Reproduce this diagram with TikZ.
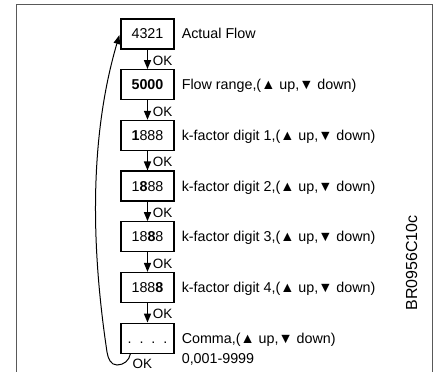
\documentclass[tikz,border=0pt]{standalone}
\usepackage{fontspec}
\setmainfont{Liberation Sans}
\usetikzlibrary{positioning,arrows.meta}

\begin{document}
\begin{tikzpicture}[x=1pt,y=1pt,
  every node/.style={font=\fontsize{14.3}{16}\selectfont, text height=10pt, text depth=0pt},
  box/.style={draw, line width=1.2pt, minimum width=53pt, minimum height=30pt, inner sep=0pt},
  lbl/.style={inner sep=0pt},
  ok/.style={inner sep=0pt, font=\fontsize{13.5}{15}\selectfont},
  flow/.style={line width=1.5pt, -{Triangle[length=9pt,width=7pt]}},
  back/.style={line width=1pt, -{Triangle[length=9pt,width=6.5pt]}},
  frame/.style={black!65, line width=1.5pt}]
\useasboundingbox (0,0) rectangle (440,372);
\draw[frame] (16.5,0) -- (16.5,367.5) -- (432.5,367.5) -- (432.5,0);

% display steps
\node[box] (b1) at (147.5,338) {4321};
\node[box] (b2) at (147.5,287.3) {\bfseries 5000};
\node[box] (b3) at (147.5,236.6) {{\bfseries 1}888};
\node[box] (b4) at (147.5,185.9) {1{\bfseries 8}88};
\node[box] (b5) at (147.5,135.2) {18{\bfseries 8}8};
\node[box] (b6) at (147.5,84.5) {188{\bfseries 8}};
\node[box] (b7) at (147.5,33.8) {.~~.~~.~~.};

% texts
\node[lbl, right=7pt of b1] (t1) {Actual Flow};
\node[lbl, right=7pt of b2] (t2) {Flow range,(▲ up,▼ down)};
\node[lbl, right=7pt of b3] (t3) {k-factor digit 1,(▲ up,▼ down)};
\node[lbl, right=7pt of b4] (t4) {k-factor digit 2,(▲ up,▼ down)};
\node[lbl, right=7pt of b5] (t5) {k-factor digit 3,(▲ up,▼ down)};
\node[lbl, right=7pt of b6] (t6) {k-factor digit 4,(▲ up,▼ down)};
\node[lbl, right=7pt of b7] (t7) {Comma,(▲ up,▼ down)};
\node[lbl, anchor=west] (r7) at ([yshift=-20pt]t7.west) {0,001-9999};
\node[rotate=90, font=\fontsize{16}{18}\selectfont] (tag) at (412,109) {BR0956C10c};

% OK steps
\draw[flow] (b1) -- node[ok, right=4.5pt, yshift=-1pt] (ok1) {OK} (b2);
\draw[flow] (b2) -- node[ok, right=4.5pt, yshift=-1pt] (ok2) {OK} (b3);
\draw[flow] (b3) -- node[ok, right=4.5pt, yshift=-1pt] (ok3) {OK} (b4);
\draw[flow] (b4) -- node[ok, right=4.5pt, yshift=-1pt] (ok4) {OK} (b5);
\draw[flow] (b5) -- node[ok, right=4.5pt, yshift=-1pt] (ok5) {OK} (b6);
\draw[flow] (b6) -- node[ok, right=4.5pt, yshift=-1pt] (ok6) {OK} (b7);
\node[ok, anchor=west] (ok7) at ([xshift=12pt,yshift=-10pt]b7.south west) {OK};

% back to start
\draw[back] ([xshift=10pt]b7.south west) to[out=-100,in=0] (117,7)
  to[out=180,in=-81] (107,20) .. controls (95,100) and (85,220) .. ([xshift=-1pt,yshift=-1pt]b1.west);
\end{tikzpicture}
\end{document}
